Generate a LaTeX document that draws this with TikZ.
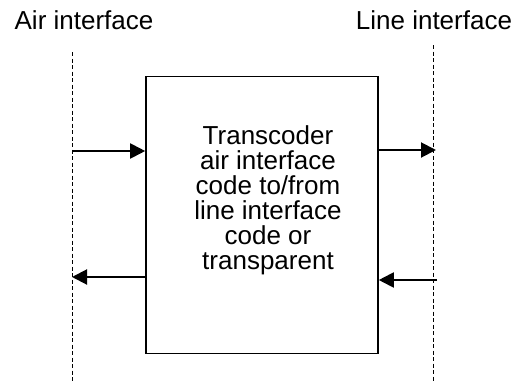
\documentclass[tikz,border=0pt]{standalone}
\usepackage{fontspec}
\setmainfont{Liberation Sans}
\usetikzlibrary{arrows.meta}
\begin{document}
\begin{tikzpicture}[x=1pt,y=-1pt,
  ifline/.style={line width=0.8pt, dash pattern=on 4pt off 2.5pt},
  flow/.style={line width=2pt, -{Triangle[length=15pt,width=15pt]}},
  label/.style={font=\fontsize{26}{25}\selectfont, inner sep=0pt, anchor=base},
  box/.style={draw, line width=1.6pt, minimum width=232pt, minimum height=277pt, inner sep=0pt}]
\useasboundingbox (0,0) rectangle (515,381);
\node[label] (airlab) at (84,29) {Air interface};
\node[label] (linelab) at (434,29) {Line interface};
\coordinate (atop) at (72,52);
\coordinate (abot) at (72,381);
\coordinate (ltop) at (433.5,45);
\coordinate (lbot) at (433.5,381);
\draw[ifline] (atop) -- (abot);
\draw[ifline] (ltop) -- (lbot);
\node[box] (tc) at (262,215) {};
\node[label, align=center] (tctext) at (268,269) {Transcoder\\air interface\\code to/from\\line interface\\code or\\transparent};
\coordinate (a1) at (72,151);
\coordinate (a2) at (72,277);
\coordinate (l1) at (436,150);
\coordinate (l2) at (437,280);
\draw[flow] (a1) -- (a1 -| tc.west);
\draw[flow] (tc.west |- a2) -- (a2);
\draw[flow] (tc.east |- l1) -- (l1);
\draw[flow] (l2) -- (l2 -| tc.east);
\end{tikzpicture}
\end{document}
